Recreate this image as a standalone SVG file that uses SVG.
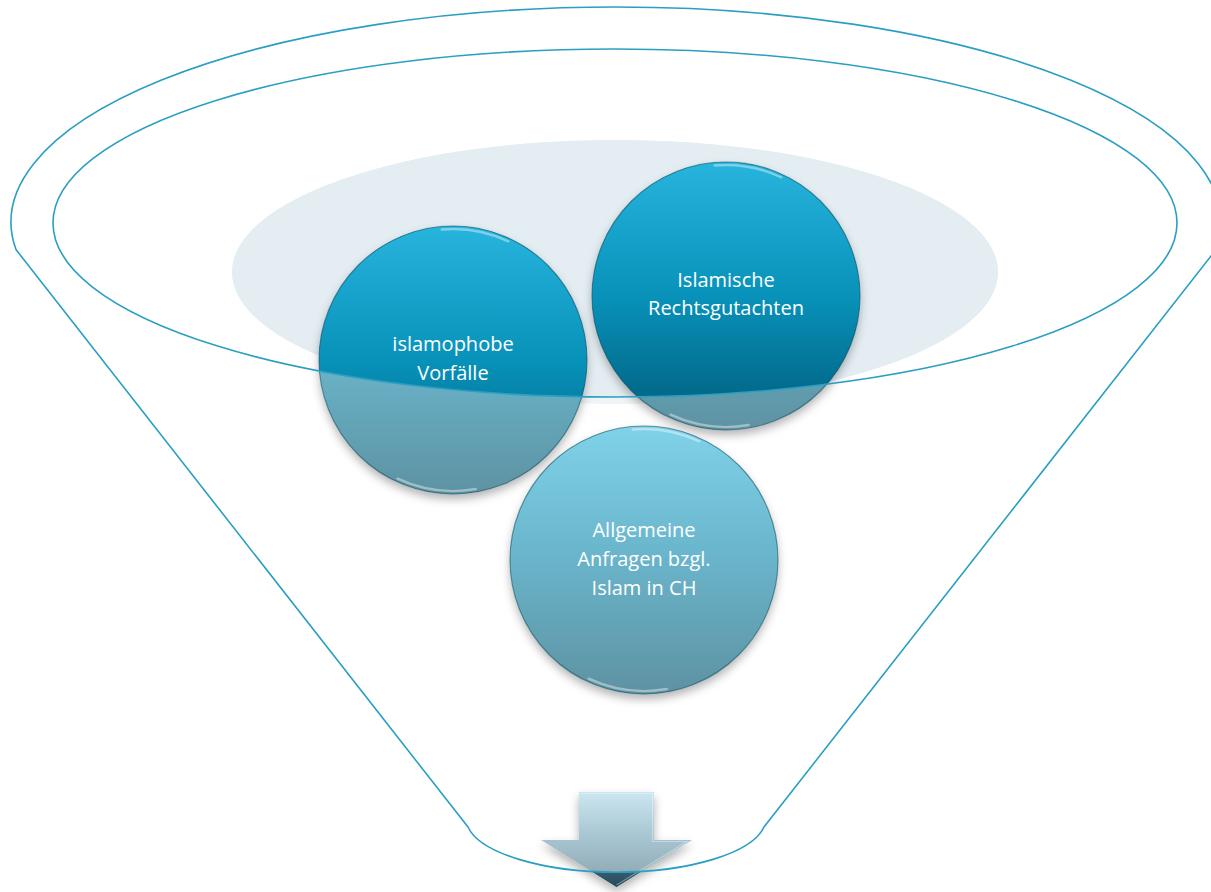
<svg xmlns="http://www.w3.org/2000/svg" width="1211" height="892" viewBox="0 0 1211 892">
<style>
.funnel{fill:none;stroke:#2A9FC2;stroke-width:1.6}
.lbl{font-family:"Open Sans","Noto Sans","Liberation Sans",sans-serif;font-size:20px;fill:#ffffff;text-anchor:middle}
.glint{fill:none;stroke:#ffffff;stroke-width:2.4;stroke-linecap:round;opacity:0.4}
.rim{fill:none;stroke:#0B5268;stroke-width:1.1;opacity:0.6}
</style>
<defs>
<linearGradient id="gVivid" x1="0" y1="0" x2="0" y2="1">
<stop offset="0" stop-color="#27B4DD"/>
<stop offset="0.5" stop-color="#0892BA"/>
<stop offset="1" stop-color="#005B79"/>
</linearGradient>
<linearGradient id="gMuted" x1="0" y1="0" x2="0" y2="1">
<stop offset="0" stop-color="#7FD2E9"/>
<stop offset="0.5" stop-color="#69B4CA"/>
<stop offset="1" stop-color="#5E92A2"/>
</linearGradient>
<linearGradient id="gArrowMuted" x1="0" y1="0" x2="0" y2="1">
<stop offset="0" stop-color="#CBE6F0"/>
<stop offset="0.45" stop-color="#A9C7D3"/>
<stop offset="1" stop-color="#88A2AD"/>
</linearGradient>
<linearGradient id="gArrowVivid" x1="0" y1="0" x2="0" y2="1">
<stop offset="0" stop-color="#8FC3D6"/>
<stop offset="0.7" stop-color="#45707F"/>
<stop offset="1" stop-color="#24475A"/>
</linearGradient>
<clipPath id="clipInner">
<ellipse cx="615" cy="223" rx="562" ry="174"/>
</clipPath>
<clipPath id="clipBelow">
<path d="M 468 827 A 150 54 0 0 0 764 827 L 764 892 L 468 892 Z"/>
</clipPath>
<filter id="shadow" x="-20%" y="-20%" width="140%" height="150%">
<feDropShadow dx="0" dy="5" stdDeviation="5" flood-color="#000000" flood-opacity="0.3"/>
</filter>
</defs>

<g id="background-ellipse">
<ellipse cx="615" cy="272" rx="383" ry="132" fill="#F0F4F6"/>
<ellipse cx="615" cy="272" rx="383" ry="132" fill="#E3EDF2" clip-path="url(#clipInner)"/>
</g>

<g id="node-islamophobe">
<circle cx="453" cy="360" r="134" fill="url(#gMuted)" filter="url(#shadow)"/>
<circle cx="453" cy="360" r="134" fill="url(#gVivid)" clip-path="url(#clipInner)"/>
<circle cx="453" cy="360" r="134" class="rim"/>
<path class="glint" d="M 441.6 229.5 A 131 131 0 0 1 508.4 241.3"/>
<path class="glint" d="M 475.7 489 A 131 131 0 0 1 397.6 478.7"/>
<text class="lbl" x="453" y="351">islamophobe</text>
<text class="lbl" x="453" y="380">Vorfälle</text>
</g>

<g id="node-rechtsgutachten">
<circle cx="726" cy="296" r="134" fill="url(#gMuted)" filter="url(#shadow)"/>
<circle cx="726" cy="296" r="134" fill="url(#gVivid)" clip-path="url(#clipInner)"/>
<circle cx="726" cy="296" r="134" class="rim"/>
<path class="glint" d="M 714.6 165.5 A 131 131 0 0 1 781.4 177.3"/>
<path class="glint" d="M 748.7 425 A 131 131 0 0 1 670.6 414.7"/>
<text class="lbl" x="726" y="287">Islamische</text>
<text class="lbl" x="726" y="315">Rechtsgutachten</text>
</g>

<g id="node-allgemeine">
<circle cx="644" cy="560" r="134" fill="url(#gMuted)" filter="url(#shadow)"/>
<circle cx="644" cy="560" r="134" class="rim"/>
<path class="glint" d="M 632.6 429.5 A 131 131 0 0 1 699.4 441.3"/>
<path class="glint" d="M 666.7 689 A 131 131 0 0 1 588.6 678.7"/>
<text class="lbl" x="644" y="537">Allgemeine</text>
<text class="lbl" x="644" y="566">Anfragen bzgl.</text>
<text class="lbl" x="644" y="595">Islam in CH</text>
</g>

<g id="arrow">
<path d="M 579 792 H 654 V 840 H 692 L 616.5 887 L 541 840 H 579 Z" fill="url(#gArrowMuted)" filter="url(#shadow)"/>
<path d="M 579 792 H 654 V 840 H 692 L 616.5 887 L 541 840 H 579 Z" fill="url(#gArrowVivid)" clip-path="url(#clipBelow)"/>
<path d="M 580.5 793.5 H 652.5 V 841.5 H 687 L 616.5 885" fill="none" stroke="#FFFFFF" stroke-opacity="0.35" stroke-width="1.2"/>
</g>

<g id="connectors">
<path class="funnel" d="M 16 249.6 A 605 215 0 1 1 1216 249.6 L 764 827 A 150 54 0 0 1 468 827 Z"/>
<ellipse class="funnel" cx="615" cy="223" rx="562" ry="174"/>
</g>
</svg>
